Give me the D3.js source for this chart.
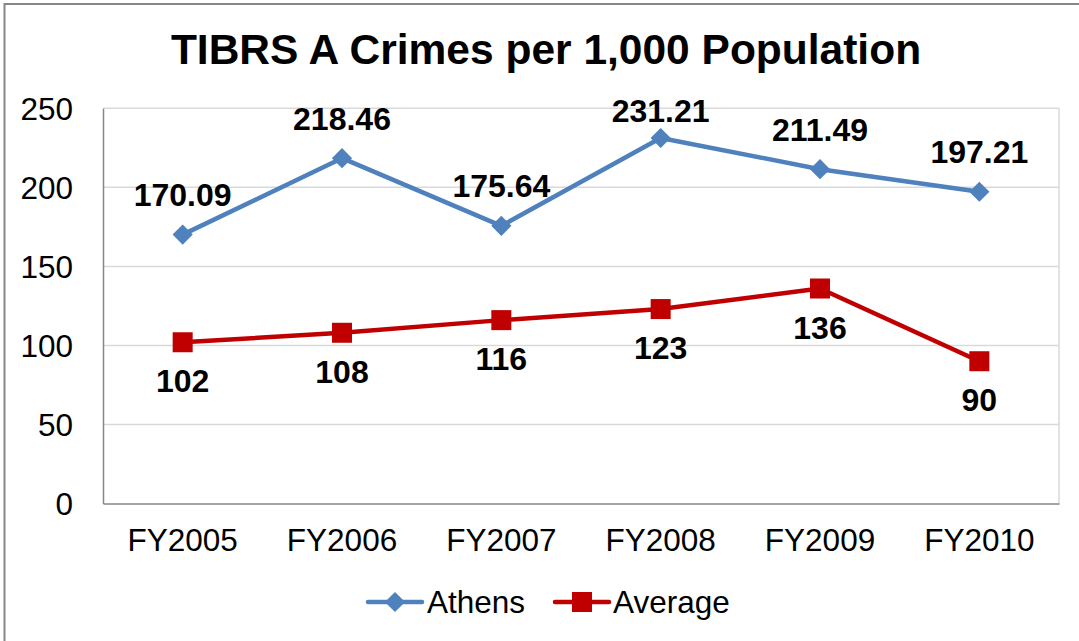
<!DOCTYPE html>
<html>
<head>
<meta charset="utf-8">
<script src="https://cdn.jsdelivr.net/npm/d3@7/dist/d3.min.js"></script>
<style>
html,body{margin:0;padding:0;background:#fff;}
svg{display:block;font-family:"Liberation Sans",Arial,sans-serif;}
</style>
</head>
<body>
<svg id="chart" width="1079" height="641"></svg>
<script>
const categories = ["FY2005","FY2006","FY2007","FY2008","FY2009","FY2010"];
const athens = [170.09, 218.46, 175.64, 231.21, 211.49, 197.21];
const average = [102, 108, 116, 123, 136, 90];
const athensLabels = ["170.09","218.46","175.64","231.21","211.49","197.21"];
const averageLabels = ["102","108","116","123","136","90"];
const yTicks = [0, 50, 100, 150, 200, 250];
const seriesNames = ["Athens", "Average"];
const title = "TIBRS A Crimes per 1,000 Population";

const svg = d3.select("#chart");
const W = 1079, H = 641;
const m = {left: 103, right: 1059, top: 108.3, bottom: 503.5};
const blue = "#4f81bd", red = "#c00000";
const tickFont = 31.5, labelFont = 32;

// outer border
svg.append("rect").attr("x", 4.5).attr("y", 4).attr("width", W + 10).attr("height", H + 10)
  .attr("fill", "#fff").attr("stroke", "#878787").attr("stroke-width", 2);

const x = d3.scaleBand().domain(categories).range([m.left, m.right]);
const y = d3.scaleLinear().domain([0, 250]).range([m.bottom, m.top]);

// gridlines
svg.append("g").selectAll("line").data(yTicks.filter(d => d > 0)).join("line")
  .attr("x1", m.left).attr("x2", m.right)
  .attr("y1", d => y(d)).attr("y2", d => y(d))
  .attr("stroke", "#d9d9d9").attr("stroke-width", 1.5);
// right border of plot
svg.append("line").attr("x1", m.right).attr("x2", m.right).attr("y1", m.top).attr("y2", m.bottom)
  .attr("stroke", "#d9d9d9").attr("stroke-width", 1.5);

// y axis
const yAxis = svg.append("g").attr("transform", `translate(${m.left},0)`)
  .call(d3.axisLeft(y).tickValues(yTicks).tickSize(0).tickPadding(30));
yAxis.select(".domain").attr("stroke", "#868686").attr("stroke-width", 1.5);
yAxis.selectAll("text").attr("font-size", tickFont).attr("fill", "#000")
  .attr("font-family", "Liberation Sans, Arial, sans-serif").attr("dy", "0.35em");

// x axis
const xAxis = svg.append("g").attr("transform", `translate(0,${m.bottom})`)
  .call(d3.axisBottom(x).tickSize(0).tickPadding(25));
xAxis.select(".domain").attr("stroke", "#868686").attr("stroke-width", 1.5);
xAxis.selectAll("text").attr("font-size", tickFont).attr("fill", "#000")
  .attr("font-family", "Liberation Sans, Arial, sans-serif");

// title
svg.append("text").attr("x", 546).attr("y", 64).attr("text-anchor", "middle")
  .attr("font-size", 42.5).attr("font-weight", "bold").attr("fill", "#000").text(title);

const cx = c => x(c) + x.bandwidth() / 2;
const line = d3.line().x((d, i) => cx(categories[i])).y(d => y(d));

// Athens
svg.append("path").datum(athens).attr("d", line).attr("fill", "none")
  .attr("stroke", blue).attr("stroke-width", 4.5).attr("stroke-linejoin", "round");
const diamond = d3.symbol().type(d3.symbolDiamond2).size(260);
svg.append("g").selectAll("path").data(athens).join("path")
  .attr("d", diamond)
  .attr("transform", (d, i) => `translate(${cx(categories[i])},${y(d)})`)
  .attr("fill", blue);

// Average
svg.append("path").datum(average).attr("d", line).attr("fill", "none")
  .attr("stroke", red).attr("stroke-width", 4.5).attr("stroke-linejoin", "round");
svg.append("g").selectAll("rect").data(average).join("rect")
  .attr("x", (d, i) => cx(categories[i]) - 10).attr("y", d => y(d) - 10)
  .attr("width", 20).attr("height", 20).attr("fill", red);

// labels
svg.append("g").selectAll("text").data(athens).join("text")
  .attr("x", (d, i) => cx(categories[i]))
  .attr("y", d => Math.max(y(d) - 28.5, 122))
  .attr("text-anchor", "middle").attr("font-size", labelFont).attr("font-weight", "bold").attr("fill", "#000")
  .text((d, i) => athensLabels[i]);
svg.append("g").selectAll("text").data(average).join("text")
  .attr("x", (d, i) => cx(categories[i]))
  .attr("y", d => y(d) + 50)
  .attr("text-anchor", "middle").attr("font-size", labelFont).attr("font-weight", "bold").attr("fill", "#000")
  .text((d, i) => averageLabels[i]);

// legend
const ly = 602;
const lg = svg.append("g");
// Athens
lg.append("line").attr("x1", 368).attr("x2", 422).attr("y1", ly).attr("y2", ly)
  .attr("stroke", blue).attr("stroke-width", 4.5).attr("stroke-linecap", "round");
lg.append("path").attr("d", diamond).attr("transform", `translate(395,${ly})`).attr("fill", blue);
lg.append("text").attr("x", 427).attr("y", ly + 11).attr("font-size", tickFont).attr("fill", "#000").text(seriesNames[0]);
// Average
lg.append("line").attr("x1", 555).attr("x2", 609).attr("y1", ly).attr("y2", ly)
  .attr("stroke", red).attr("stroke-width", 4.5).attr("stroke-linecap", "round");
lg.append("rect").attr("x", 572).attr("y", ly - 10).attr("width", 20).attr("height", 20).attr("fill", red);
lg.append("text").attr("x", 613).attr("y", ly + 11).attr("font-size", tickFont).attr("fill", "#000").text(seriesNames[1]);
</script>
</body>
</html>
